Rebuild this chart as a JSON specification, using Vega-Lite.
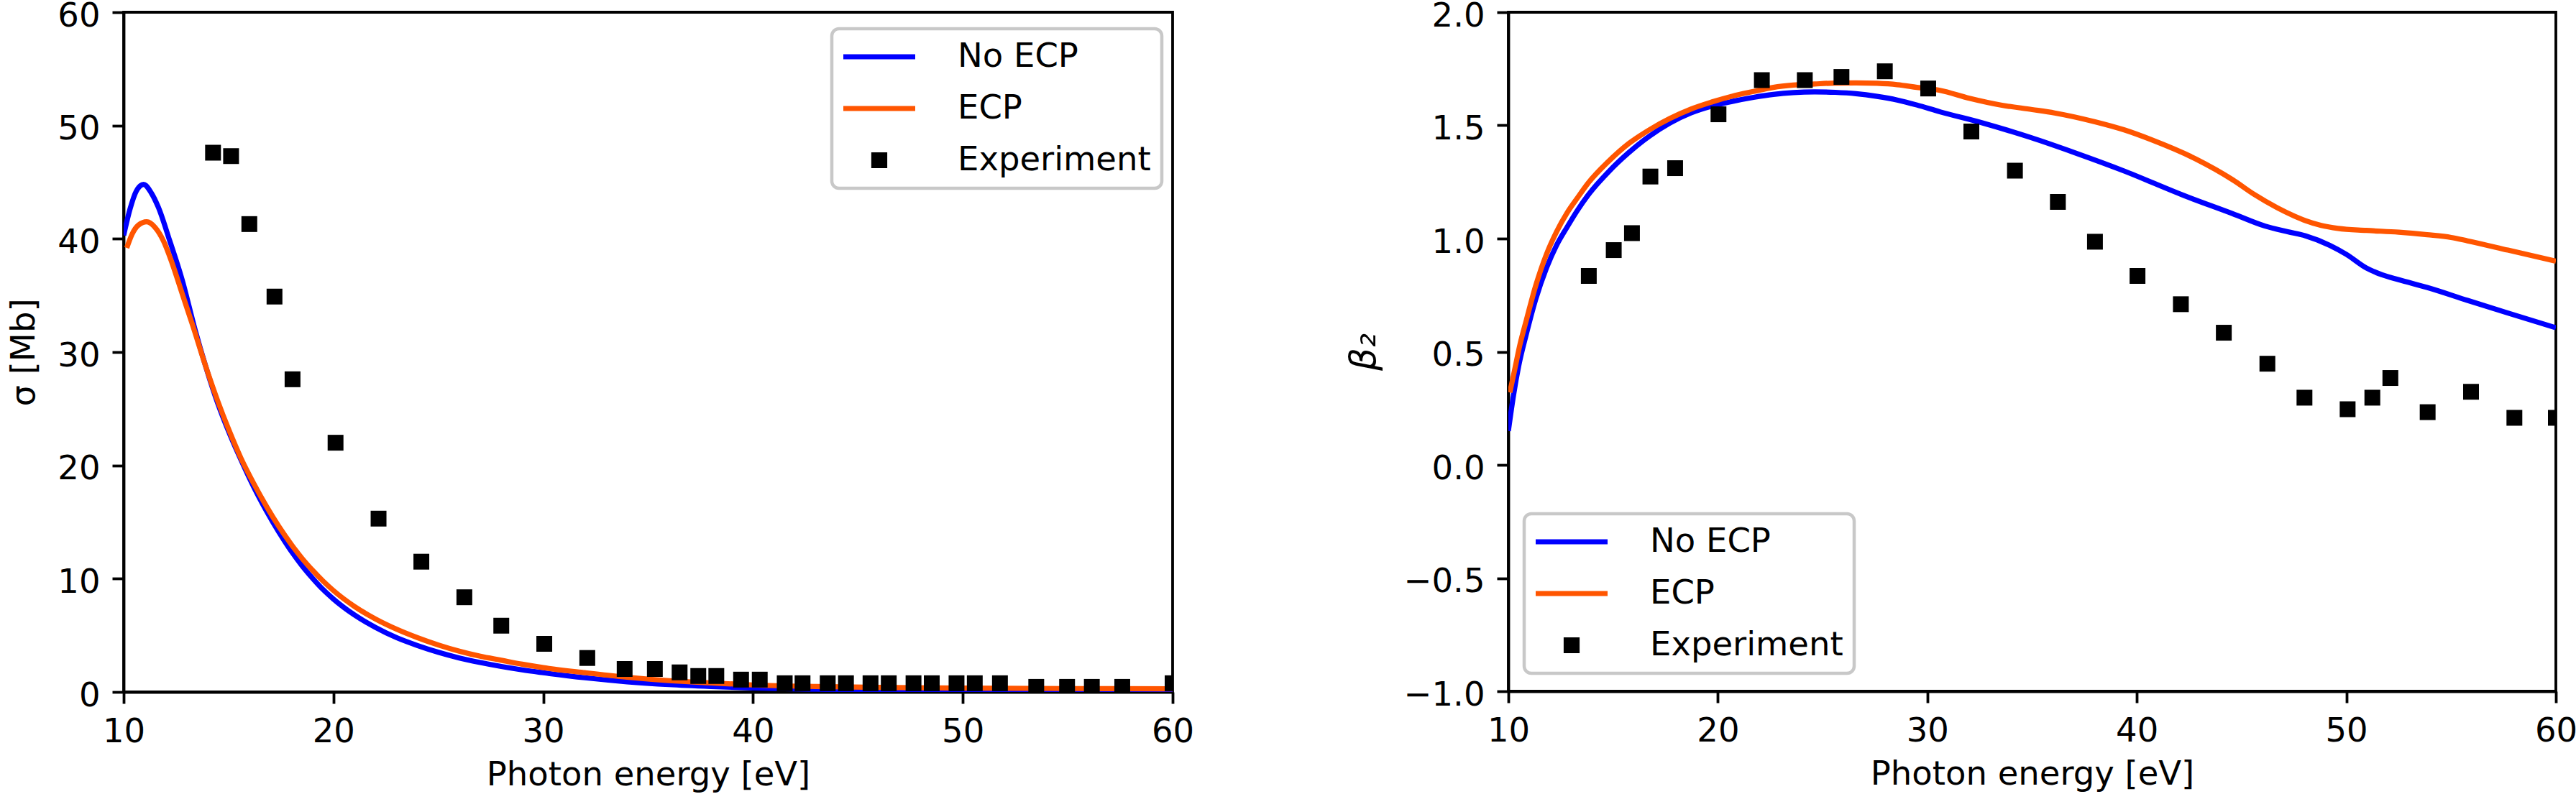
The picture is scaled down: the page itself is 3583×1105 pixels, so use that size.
{
  "$schema": "https://vega.github.io/schema/vega-lite/v6.json",
  "autosize": {"type": "none"},
  "padding": {"left": 172, "top": 17, "right": 3411, "bottom": 1088},
  "background": "white",
  "config": {
    "font": "DejaVu Sans",
    "view": {"stroke": "black", "strokeWidth": 3.8},
    "axis": {"labelFont": "DejaVu Sans", "labelFontSize": 46.5, "labelColor": "black", "titleFont": "DejaVu Sans", "titleFontSize": 46.5, "titleFontWeight": "normal", "titleColor": "black", "domainColor": "black", "domainWidth": 3.8, "tickColor": "black", "tickWidth": 3.8, "tickSize": 16, "grid": false, "labelFlush": false, "labelOverlap": false},
    "axisX": {"labelPadding": 16, "titlePadding": 14},
    "axisY": {"labelPadding": 17, "titlePadding": 22, "labelOffset": 5},
    "legend": {
      "orient": "none", "title": null,
      "labelFont": "DejaVu Sans", "labelFontSize": 46.5, "labelColor": "black", "labelLimit": 0,
      "symbolSize": 1600, "symbolStrokeWidth": 7.2, "symbolOffset": 27, "labelOffset": 85,
      "rowPadding": 24, "padding": 15,
      "fillColor": "rgba(255,255,255,0.8)", "strokeColor": "#c8c8c8", "cornerRadius": 10
    }
  },
  "datasets": {
    "sigma_lines": [
      {"E": 10.0, "v": 40.3, "series": "No ECP"},
      {"E": 10.3, "v": 42.6, "series": "No ECP"},
      {"E": 10.6, "v": 44.2, "series": "No ECP"},
      {"E": 10.95, "v": 44.8, "series": "No ECP"},
      {"E": 11.3, "v": 44.1, "series": "No ECP"},
      {"E": 11.65, "v": 42.8, "series": "No ECP"},
      {"E": 12.2, "v": 39.8, "series": "No ECP"},
      {"E": 12.8, "v": 36.3, "series": "No ECP"},
      {"E": 13.4, "v": 32.0, "series": "No ECP"},
      {"E": 13.9, "v": 28.8, "series": "No ECP"},
      {"E": 14.5, "v": 25.4, "series": "No ECP"},
      {"E": 15.07, "v": 22.7, "series": "No ECP"},
      {"E": 15.64, "v": 20.3, "series": "No ECP"},
      {"E": 16.2, "v": 18.1, "series": "No ECP"},
      {"E": 16.8, "v": 16.0, "series": "No ECP"},
      {"E": 17.4, "v": 14.1, "series": "No ECP"},
      {"E": 18.0, "v": 12.4, "series": "No ECP"},
      {"E": 18.5, "v": 11.15, "series": "No ECP"},
      {"E": 19.0, "v": 10.05, "series": "No ECP"},
      {"E": 19.5, "v": 9.05, "series": "No ECP"},
      {"E": 20.0, "v": 8.2, "series": "No ECP"},
      {"E": 21.0, "v": 6.8, "series": "No ECP"},
      {"E": 22.0, "v": 5.7, "series": "No ECP"},
      {"E": 23.0, "v": 4.8, "series": "No ECP"},
      {"E": 24.0, "v": 4.1, "series": "No ECP"},
      {"E": 25.0, "v": 3.5, "series": "No ECP"},
      {"E": 26.0, "v": 3.0, "series": "No ECP"},
      {"E": 27.0, "v": 2.6, "series": "No ECP"},
      {"E": 28.0, "v": 2.25, "series": "No ECP"},
      {"E": 29.0, "v": 1.95, "series": "No ECP"},
      {"E": 30.0, "v": 1.7, "series": "No ECP"},
      {"E": 32.0, "v": 1.25, "series": "No ECP"},
      {"E": 34.0, "v": 0.9, "series": "No ECP"},
      {"E": 36.0, "v": 0.65, "series": "No ECP"},
      {"E": 38.0, "v": 0.48, "series": "No ECP"},
      {"E": 40.0, "v": 0.35, "series": "No ECP"},
      {"E": 43.0, "v": 0.24, "series": "No ECP"},
      {"E": 46.0, "v": 0.17, "series": "No ECP"},
      {"E": 50.0, "v": 0.12, "series": "No ECP"},
      {"E": 55.0, "v": 0.09, "series": "No ECP"},
      {"E": 60.0, "v": 0.07, "series": "No ECP"},
      {"E": 10.15, "v": 39.2, "series": "ECP"},
      {"E": 10.4, "v": 40.4, "series": "ECP"},
      {"E": 10.7, "v": 41.2, "series": "ECP"},
      {"E": 11.1, "v": 41.5, "series": "ECP"},
      {"E": 11.5, "v": 41.0, "series": "ECP"},
      {"E": 11.9, "v": 39.8, "series": "ECP"},
      {"E": 12.3, "v": 37.9, "series": "ECP"},
      {"E": 12.8, "v": 35.1, "series": "ECP"},
      {"E": 13.3, "v": 32.3, "series": "ECP"},
      {"E": 13.9, "v": 28.8, "series": "ECP"},
      {"E": 14.5, "v": 25.6, "series": "ECP"},
      {"E": 15.0, "v": 23.2, "series": "ECP"},
      {"E": 15.6, "v": 20.6, "series": "ECP"},
      {"E": 16.2, "v": 18.4, "series": "ECP"},
      {"E": 16.8, "v": 16.4, "series": "ECP"},
      {"E": 17.4, "v": 14.6, "series": "ECP"},
      {"E": 18.0, "v": 13.0, "series": "ECP"},
      {"E": 18.5, "v": 11.8, "series": "ECP"},
      {"E": 19.0, "v": 10.75, "series": "ECP"},
      {"E": 19.5, "v": 9.8, "series": "ECP"},
      {"E": 20.0, "v": 8.95, "series": "ECP"},
      {"E": 21.0, "v": 7.55, "series": "ECP"},
      {"E": 22.0, "v": 6.45, "series": "ECP"},
      {"E": 23.0, "v": 5.55, "series": "ECP"},
      {"E": 24.0, "v": 4.8, "series": "ECP"},
      {"E": 25.0, "v": 4.15, "series": "ECP"},
      {"E": 26.0, "v": 3.6, "series": "ECP"},
      {"E": 27.0, "v": 3.15, "series": "ECP"},
      {"E": 28.0, "v": 2.8, "series": "ECP"},
      {"E": 29.0, "v": 2.45, "series": "ECP"},
      {"E": 30.0, "v": 2.15, "series": "ECP"},
      {"E": 32.0, "v": 1.7, "series": "ECP"},
      {"E": 34.0, "v": 1.3, "series": "ECP"},
      {"E": 36.0, "v": 1.0, "series": "ECP"},
      {"E": 38.0, "v": 0.8, "series": "ECP"},
      {"E": 40.0, "v": 0.62, "series": "ECP"},
      {"E": 43.0, "v": 0.48, "series": "ECP"},
      {"E": 46.0, "v": 0.4, "series": "ECP"},
      {"E": 50.0, "v": 0.34, "series": "ECP"},
      {"E": 55.0, "v": 0.3, "series": "ECP"},
      {"E": 60.0, "v": 0.28, "series": "ECP"}
    ],
    "sigma_exp": [
      {"E": 14.26, "v": 47.6, "series": "Experiment"},
      {"E": 15.12, "v": 47.3, "series": "Experiment"},
      {"E": 15.99, "v": 41.3, "series": "Experiment"},
      {"E": 17.19, "v": 34.9, "series": "Experiment"},
      {"E": 18.05, "v": 27.6, "series": "Experiment"},
      {"E": 20.1, "v": 22.0, "series": "Experiment"},
      {"E": 22.15, "v": 15.3, "series": "Experiment"},
      {"E": 24.19, "v": 11.5, "series": "Experiment"},
      {"E": 26.24, "v": 8.36, "series": "Experiment"},
      {"E": 28.0, "v": 5.85, "series": "Experiment"},
      {"E": 30.05, "v": 4.25, "series": "Experiment"},
      {"E": 32.1, "v": 3.0, "series": "Experiment"},
      {"E": 33.88, "v": 2.03, "series": "Experiment"},
      {"E": 35.32, "v": 2.03, "series": "Experiment"},
      {"E": 36.5, "v": 1.73, "series": "Experiment"},
      {"E": 37.39, "v": 1.41, "series": "Experiment"},
      {"E": 38.25, "v": 1.41, "series": "Experiment"},
      {"E": 39.43, "v": 1.09, "series": "Experiment"},
      {"E": 40.32, "v": 1.09, "series": "Experiment"},
      {"E": 41.51, "v": 0.77, "series": "Experiment"},
      {"E": 42.36, "v": 0.77, "series": "Experiment"},
      {"E": 43.56, "v": 0.77, "series": "Experiment"},
      {"E": 44.43, "v": 0.77, "series": "Experiment"},
      {"E": 45.6, "v": 0.77, "series": "Experiment"},
      {"E": 46.47, "v": 0.77, "series": "Experiment"},
      {"E": 47.65, "v": 0.77, "series": "Experiment"},
      {"E": 48.52, "v": 0.77, "series": "Experiment"},
      {"E": 49.7, "v": 0.77, "series": "Experiment"},
      {"E": 50.57, "v": 0.77, "series": "Experiment"},
      {"E": 51.77, "v": 0.77, "series": "Experiment"},
      {"E": 53.5, "v": 0.45, "series": "Experiment"},
      {"E": 54.97, "v": 0.45, "series": "Experiment"},
      {"E": 56.15, "v": 0.45, "series": "Experiment"},
      {"E": 57.6, "v": 0.45, "series": "Experiment"},
      {"E": 60.0, "v": 0.77, "series": "Experiment"}
    ],
    "beta_lines": [
      {"E": 10.0, "v": 0.15, "series": "No ECP"},
      {"E": 10.25, "v": 0.31, "series": "No ECP"},
      {"E": 10.5, "v": 0.44, "series": "No ECP"},
      {"E": 10.85, "v": 0.575, "series": "No ECP"},
      {"E": 11.3, "v": 0.73, "series": "No ECP"},
      {"E": 11.82, "v": 0.87, "series": "No ECP"},
      {"E": 12.3, "v": 0.97, "series": "No ECP"},
      {"E": 12.8, "v": 1.05, "series": "No ECP"},
      {"E": 13.3, "v": 1.125, "series": "No ECP"},
      {"E": 13.79, "v": 1.19, "series": "No ECP"},
      {"E": 14.77, "v": 1.294, "series": "No ECP"},
      {"E": 15.75, "v": 1.38, "series": "No ECP"},
      {"E": 16.74, "v": 1.453, "series": "No ECP"},
      {"E": 17.7, "v": 1.51, "series": "No ECP"},
      {"E": 18.71, "v": 1.555, "series": "No ECP"},
      {"E": 19.7, "v": 1.585, "series": "No ECP"},
      {"E": 20.68, "v": 1.606, "series": "No ECP"},
      {"E": 21.7, "v": 1.624, "series": "No ECP"},
      {"E": 22.65, "v": 1.637, "series": "No ECP"},
      {"E": 23.6, "v": 1.645, "series": "No ECP"},
      {"E": 24.62, "v": 1.648, "series": "No ECP"},
      {"E": 25.6, "v": 1.646, "series": "No ECP"},
      {"E": 26.59, "v": 1.64, "series": "No ECP"},
      {"E": 27.6, "v": 1.628, "series": "No ECP"},
      {"E": 28.56, "v": 1.612, "series": "No ECP"},
      {"E": 29.5, "v": 1.59, "series": "No ECP"},
      {"E": 30.6, "v": 1.56, "series": "No ECP"},
      {"E": 32.59, "v": 1.512, "series": "No ECP"},
      {"E": 34.91, "v": 1.447, "series": "No ECP"},
      {"E": 37.04, "v": 1.379, "series": "No ECP"},
      {"E": 39.35, "v": 1.3, "series": "No ECP"},
      {"E": 42.25, "v": 1.19, "series": "No ECP"},
      {"E": 44.57, "v": 1.11, "series": "No ECP"},
      {"E": 46.12, "v": 1.055, "series": "No ECP"},
      {"E": 47.2, "v": 1.03, "series": "No ECP"},
      {"E": 48.05, "v": 1.012, "series": "No ECP"},
      {"E": 49.21, "v": 0.97, "series": "No ECP"},
      {"E": 50.0, "v": 0.93, "series": "No ECP"},
      {"E": 50.95, "v": 0.87, "series": "No ECP"},
      {"E": 51.7, "v": 0.84, "series": "No ECP"},
      {"E": 52.5, "v": 0.818, "series": "No ECP"},
      {"E": 53.85, "v": 0.784, "series": "No ECP"},
      {"E": 55.78, "v": 0.727, "series": "No ECP"},
      {"E": 57.71, "v": 0.671, "series": "No ECP"},
      {"E": 60.0, "v": 0.606, "series": "No ECP"},
      {"E": 10.07, "v": 0.32, "series": "ECP"},
      {"E": 10.3, "v": 0.42, "series": "ECP"},
      {"E": 10.55, "v": 0.53, "series": "ECP"},
      {"E": 10.86, "v": 0.64, "series": "ECP"},
      {"E": 11.3, "v": 0.79, "series": "ECP"},
      {"E": 11.82, "v": 0.931, "series": "ECP"},
      {"E": 12.3, "v": 1.03, "series": "ECP"},
      {"E": 12.8, "v": 1.113, "series": "ECP"},
      {"E": 13.3, "v": 1.18, "series": "ECP"},
      {"E": 13.79, "v": 1.243, "series": "ECP"},
      {"E": 14.77, "v": 1.34, "series": "ECP"},
      {"E": 15.75, "v": 1.42, "series": "ECP"},
      {"E": 16.74, "v": 1.481, "series": "ECP"},
      {"E": 17.7, "v": 1.53, "series": "ECP"},
      {"E": 18.71, "v": 1.572, "series": "ECP"},
      {"E": 19.7, "v": 1.603, "series": "ECP"},
      {"E": 20.68, "v": 1.629, "series": "ECP"},
      {"E": 21.7, "v": 1.65, "series": "ECP"},
      {"E": 22.65, "v": 1.668, "series": "ECP"},
      {"E": 23.6, "v": 1.678, "series": "ECP"},
      {"E": 24.62, "v": 1.683, "series": "ECP"},
      {"E": 25.6, "v": 1.687, "series": "ECP"},
      {"E": 26.59, "v": 1.688, "series": "ECP"},
      {"E": 27.6, "v": 1.686, "series": "ECP"},
      {"E": 28.56, "v": 1.68, "series": "ECP"},
      {"E": 29.5, "v": 1.668, "series": "ECP"},
      {"E": 30.6, "v": 1.655, "series": "ECP"},
      {"E": 32.0, "v": 1.62, "series": "ECP"},
      {"E": 33.56, "v": 1.589, "series": "ECP"},
      {"E": 35.0, "v": 1.57, "series": "ECP"},
      {"E": 36.07, "v": 1.555, "series": "ECP"},
      {"E": 38.0, "v": 1.516, "series": "ECP"},
      {"E": 39.4, "v": 1.48, "series": "ECP"},
      {"E": 40.71, "v": 1.436, "series": "ECP"},
      {"E": 42.83, "v": 1.351, "series": "ECP"},
      {"E": 44.57, "v": 1.26, "series": "ECP"},
      {"E": 45.6, "v": 1.195, "series": "ECP"},
      {"E": 46.7, "v": 1.136, "series": "ECP"},
      {"E": 47.5, "v": 1.1, "series": "ECP"},
      {"E": 48.05, "v": 1.079, "series": "ECP"},
      {"E": 48.8, "v": 1.058, "series": "ECP"},
      {"E": 49.6, "v": 1.045, "series": "ECP"},
      {"E": 50.95, "v": 1.036, "series": "ECP"},
      {"E": 52.5, "v": 1.028, "series": "ECP"},
      {"E": 53.85, "v": 1.017, "series": "ECP"},
      {"E": 55.0, "v": 1.005, "series": "ECP"},
      {"E": 55.78, "v": 0.99, "series": "ECP"},
      {"E": 57.71, "v": 0.949, "series": "ECP"},
      {"E": 60.0, "v": 0.9, "series": "ECP"}
    ],
    "beta_exp": [
      {"E": 13.84, "v": 0.835, "series": "Experiment"},
      {"E": 15.03, "v": 0.949, "series": "Experiment"},
      {"E": 15.9, "v": 1.024, "series": "Experiment"},
      {"E": 16.78, "v": 1.274, "series": "Experiment"},
      {"E": 17.96, "v": 1.311, "series": "Experiment"},
      {"E": 20.03, "v": 1.549, "series": "Experiment"},
      {"E": 22.1, "v": 1.7, "series": "Experiment"},
      {"E": 24.15, "v": 1.7, "series": "Experiment"},
      {"E": 25.9, "v": 1.714, "series": "Experiment"},
      {"E": 27.97, "v": 1.739, "series": "Experiment"},
      {"E": 30.04, "v": 1.663, "series": "Experiment"},
      {"E": 32.1, "v": 1.473, "series": "Experiment"},
      {"E": 34.18, "v": 1.3, "series": "Experiment"},
      {"E": 36.23, "v": 1.162, "series": "Experiment"},
      {"E": 38.0, "v": 0.986, "series": "Experiment"},
      {"E": 40.03, "v": 0.835, "series": "Experiment"},
      {"E": 42.1, "v": 0.71, "series": "Experiment"},
      {"E": 44.15, "v": 0.584, "series": "Experiment"},
      {"E": 46.23, "v": 0.447, "series": "Experiment"},
      {"E": 48.0, "v": 0.297, "series": "Experiment"},
      {"E": 50.06, "v": 0.246, "series": "Experiment"},
      {"E": 51.24, "v": 0.297, "series": "Experiment"},
      {"E": 52.1, "v": 0.384, "series": "Experiment"},
      {"E": 53.88, "v": 0.233, "series": "Experiment"},
      {"E": 55.95, "v": 0.323, "series": "Experiment"},
      {"E": 58.02, "v": 0.208, "series": "Experiment"},
      {"E": 60.0, "v": 0.208, "series": "Experiment"}
    ]
  },
  "resolve": {"scale": {"color": "independent"}, "legend": {"color": "independent"}},
  "bounds": "flush",
  "spacing": 467,
  "hconcat": [
    {
      "width": 1459,
      "height": 946,
      "encoding": {
        "x": {"field": "E", "type": "quantitative", "scale": {"domain": [10, 60], "nice": false, "zero": false}, "axis": {"title": "Photon energy [eV]", "values": [10, 20, 30, 40, 50, 60]}},
        "y": {"field": "v", "type": "quantitative", "scale": {"domain": [0, 60], "nice": false, "zero": false}, "axis": {"title": "σ [Mb]", "values": [0, 10, 20, 30, 40, 50, 60]}},
        "color": {"field": "series", "type": "nominal", "scale": {"domain": ["No ECP", "ECP", "Experiment"], "range": ["#0000ff", "#ff5500", "#000000"]},
          "legend": {"legendX": 985, "legendY": 23,
            "encode": {
              "legend": {"update": {"strokeWidth": {"value": 4.5}}},
              "symbols": {"update": {
                "shape": {"signal": "datum.value === 'Experiment' ? 'M-0.375,-0.375H0.375V0.375H-0.375Z' : 'M-2.5,0H2.5'"},
                "fill": {"signal": "datum.value === 'Experiment' ? '#000000' : 'transparent'"},
                "stroke": {"signal": "datum.value === 'No ECP' ? '#0000ff' : datum.value === 'ECP' ? '#ff5500' : '#000000'"},
                "strokeWidth": {"value": 7.2},
                "opacity": {"value": 1}
              }}
            }}}
      },
      "layer": [
        {"data": {"name": "sigma_lines"}, "transform": [{"filter": "datum.series === 'No ECP'"}], "mark": {"type": "line", "strokeWidth": 7.2, "interpolate": "monotone", "clip": true}},
        {"data": {"name": "sigma_lines"}, "transform": [{"filter": "datum.series === 'ECP'"}], "mark": {"type": "line", "strokeWidth": 7.2, "interpolate": "monotone", "clip": true}},
        {"data": {"name": "sigma_exp"}, "mark": {"type": "point", "shape": "square", "filled": true, "size": 484, "opacity": 1, "clip": true}}
      ]
    },
    {
      "width": 1457,
      "height": 945,
      "encoding": {
        "x": {"field": "E", "type": "quantitative", "scale": {"domain": [10, 60], "nice": false, "zero": false}, "axis": {"title": "Photon energy [eV]", "values": [10, 20, 30, 40, 50, 60]}},
        "y": {"field": "v", "type": "quantitative", "scale": {"domain": [-1, 2], "nice": false, "zero": false}, "axis": {"title": "β₂", "titleFontStyle": "italic", "titleFontSize": 50, "titlePadding": 30, "format": ".1f", "values": [-1, -0.5, 0, 0.5, 1, 1.5, 2]}},
        "color": {"field": "series", "type": "nominal", "scale": {"domain": ["No ECP", "ECP", "Experiment"], "range": ["#0000ff", "#ff5500", "#000000"]},
          "legend": {"legendX": 22, "legendY": 698,
            "encode": {
              "legend": {"update": {"strokeWidth": {"value": 4.5}}},
              "symbols": {"update": {
                "shape": {"signal": "datum.value === 'Experiment' ? 'M-0.375,-0.375H0.375V0.375H-0.375Z' : 'M-2.5,0H2.5'"},
                "fill": {"signal": "datum.value === 'Experiment' ? '#000000' : 'transparent'"},
                "stroke": {"signal": "datum.value === 'No ECP' ? '#0000ff' : datum.value === 'ECP' ? '#ff5500' : '#000000'"},
                "strokeWidth": {"value": 7.2},
                "opacity": {"value": 1}
              }}
            }}}
      },
      "layer": [
        {"data": {"name": "beta_lines"}, "transform": [{"filter": "datum.series === 'No ECP'"}], "mark": {"type": "line", "strokeWidth": 7.2, "interpolate": "monotone", "clip": true}},
        {"data": {"name": "beta_lines"}, "transform": [{"filter": "datum.series === 'ECP'"}], "mark": {"type": "line", "strokeWidth": 7.2, "interpolate": "monotone", "clip": true}},
        {"data": {"name": "beta_exp"}, "mark": {"type": "point", "shape": "square", "filled": true, "size": 484, "opacity": 1, "clip": true}}
      ]
    }
  ]
}
